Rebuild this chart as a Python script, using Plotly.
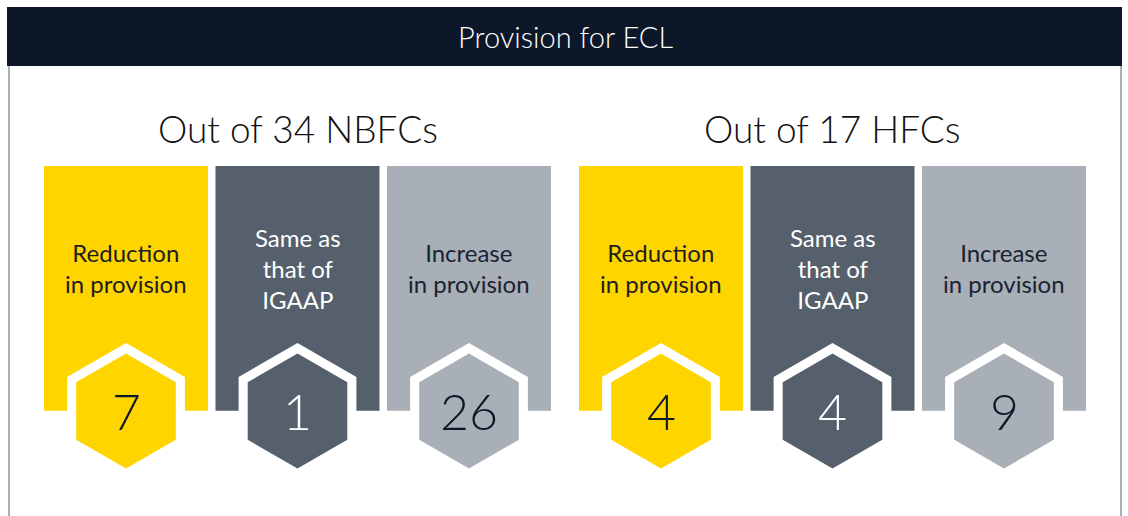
import math
import plotly.graph_objects as go

# ---- data ------------------------------------------------------------
header_text = "Provision for ECL"
group_titles = ["Out of 34 NBFCs", "Out of 17 HFCs"]
categories = ["Reduction<br>in provision", "Same as<br>that of<br>IGAAP", "Increase<br>in provision"]
nbfc_counts = [7, 1, 26]
hfc_counts = [4, 4, 9]

# ---- style -------------------------------------------------------------
W, H = 1128, 516
FONT = "Lato"
NAVY = "#0C1729"
BORDER = "#A9B0B7"
box_colors = ["#FFD500", "#55606C", "#A8AFB6"]
label_colors = ["#1E1E1E", "#FFFFFF", "#1A2233"]
number_colors = [NAVY, "#FFFFFF", NAVY]

group_left = [44, 579]
box_w = 164
box_step = 171.5
box_top, box_bottom = 166, 410.7
hex_cy = 411
hex_r_outer = 68
hex_r_inner = 57.5


def hex_path(cx, cy, r):
    pts = []
    for k in range(6):
        a = math.radians(90 + 60 * k)
        pts.append((cx + r * math.cos(a), cy - r * math.sin(a)))
    return "M " + " L ".join(f"{x:.2f},{y:.2f}" for x, y in pts) + " Z"


fig = go.Figure()
shapes = []
annotations = []

# header bar + frame lines
shapes.append(dict(type="rect", x0=7, x1=1122, y0=7, y1=66,
                   fillcolor=NAVY, line=dict(width=0), layer="below"))
for bx in [9, 1121]:
    shapes.append(dict(type="line", x0=bx, x1=bx, y0=66, y1=H,
                       line=dict(color=BORDER, width=2)))
annotations.append(dict(x=565, y=36, text=header_text, showarrow=False,
                        font=dict(family=FONT, size=29, color="white", weight=300),
                        xanchor="center", yanchor="middle"))

for g, (title, counts) in enumerate(zip(group_titles, [nbfc_counts, hfc_counts])):
    left = group_left[g]
    group_cx = left + (2 * box_step + box_w) / 2
    annotations.append(dict(x=group_cx, y=128, text=title, showarrow=False,
                            font=dict(family=FONT, size=37, color="#111111", weight=300),
                            xanchor="center", yanchor="middle"))
    for i, (label, n) in enumerate(zip(categories, counts)):
        x0 = left + i * box_step
        cx = x0 + box_w / 2
        shapes.append(dict(type="rect", x0=x0, x1=x0 + box_w, y0=box_top, y1=box_bottom,
                           fillcolor=box_colors[i], line=dict(width=0)))
        shapes.append(dict(type="path", path=hex_path(cx, hex_cy, hex_r_outer),
                           fillcolor="white", line=dict(width=0)))
        shapes.append(dict(type="path", path=hex_path(cx, hex_cy, hex_r_inner),
                           fillcolor=box_colors[i], line=dict(width=0)))
        annotations.append(dict(x=cx, y=268, text=label, showarrow=False,
                                font=dict(family=FONT, size=24, color=label_colors[i]),
                                xanchor="center", yanchor="middle", align="center"))
        annotations.append(dict(x=cx, y=411, text=str(n), showarrow=False,
                                font=dict(family=FONT, size=50, color=number_colors[i], weight=300),
                                xanchor="center", yanchor="middle"))

fig.update_layout(
    width=W, height=H,
    margin=dict(l=0, r=0, t=0, b=0),
    plot_bgcolor="white",
    paper_bgcolor="white",
    showlegend=False,
    shapes=shapes,
    annotations=annotations,
    xaxis=dict(range=[0, W], visible=False, fixedrange=True),
    yaxis=dict(range=[H, 0], visible=False, fixedrange=True),
)

fig.write_html("out.html", config={"displayModeBar": False},
               post_script="document.body.style.margin='0';")
